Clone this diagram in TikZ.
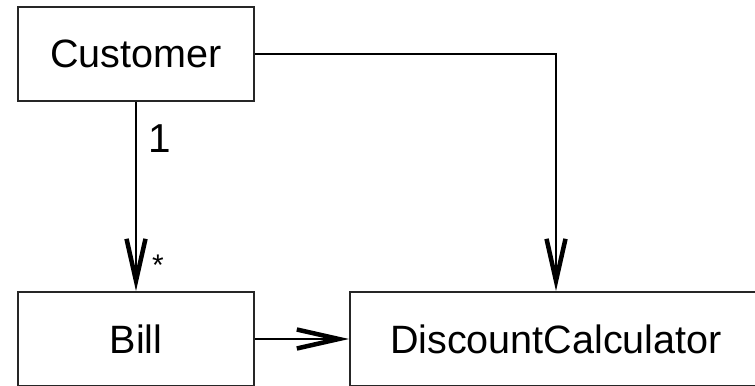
\documentclass[tikz,border=0pt]{standalone}
\usepackage{fontspec}
\setmainfont{Liberation Sans}
\usepackage{tikz}
\usetikzlibrary{arrows.meta,positioning}

\tikzset{
  classbox/.style={draw=black!85,line width=0.04cm,inner sep=0pt,minimum height=1.88cm,font=\fontsize{22.5}{25}\selectfont},
  assoc/.style={line width=0.03cm,-{Straight Barb[length=0.84cm,width=0.38cm,line width=0.09cm]}},
  mult/.style={font=\fontsize{23}{26}\selectfont,inner sep=0pt}
}

\begin{document}
\begin{tikzpicture}
\useasboundingbox (0,0) rectangle (15.1,-7.72);
\node[classbox,minimum width=4.72cm] (cust) at (2.72,-1.08) {Customer};
\node[classbox,minimum width=4.72cm] (bill) at (2.72,-6.78) {Bill};
\node[classbox,minimum width=8.24cm] (disc) at (11.12,-6.78) {DiscountCalculator};
\draw[assoc] (cust) -- (bill);
\draw[assoc] (cust.east) -| (disc.north);
\draw[assoc] (bill.east) -- (disc.west);
\node[mult] (one) at (3.2,-2.78) {1};
\node[mult,font=\fontsize{17}{20}\selectfont] (many) at (3.16,-5.3) {*};
\end{tikzpicture}
\end{document}
